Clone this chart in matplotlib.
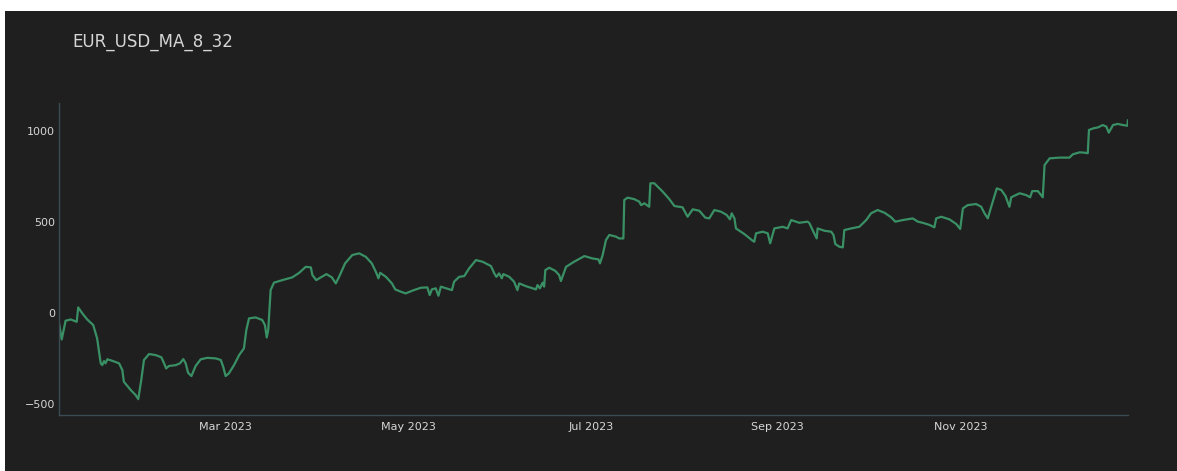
import matplotlib
matplotlib.use("Agg")
import matplotlib.pyplot as plt
import matplotlib.dates as mdates
from matplotlib.patches import Rectangle
import pandas as pd

# days since 2023-01-01 and strategy value
day_offsets = [
    3.7, 4.6, 5.9, 7.6, 9.6, 10.1, 11.4, 13.1, 15.1, 16.4, 17.6, 18.1, 18.7, 19.2,
    19.8, 21.4, 23.7, 24.8, 25.3, 27.6, 29.2, 30.1, 31.1, 32.0, 33.7, 35.9, 37.8,
    38.7, 39.4, 40.3, 42.6, 44.0, 45.1, 45.9, 46.7, 47.8, 49.2, 50.9, 53.1, 55.9,
    57.6, 58.4, 59.2, 60.3, 62.0, 63.7, 65.3, 66.1, 67.0, 69.2, 71.4, 72.3, 72.9,
    73.4, 74.2, 75.3, 78.1, 81.4, 83.7, 85.9, 87.6, 88.1, 89.4, 90.9, 92.8, 94.6,
    95.9, 97.0, 99.0, 101.4, 103.7, 105.9, 107.9, 109.4, 110.1, 110.7, 112.6,
    114.6, 115.7, 117.6, 119.2, 121.4, 124.2, 126.4, 127.2, 127.9, 129.2, 130.1,
    130.9, 132.6, 134.6, 135.3, 137.0, 138.7, 140.3, 142.6, 144.8, 147.6, 148.7,
    149.4, 150.3, 151.2, 151.7, 153.7, 155.3, 156.4, 157.0, 159.2, 162.6, 163.1,
    163.9, 164.8, 165.3, 165.7, 167.0, 169.0, 170.3, 170.9, 172.6, 175.3, 178.7,
    181.4, 183.4, 183.9, 184.8, 185.9, 187.0, 189.2, 190.3, 191.7, 192.0, 193.1,
    195.3, 197.0, 197.6, 198.7, 200.3, 200.7, 202.0, 204.8, 207.0, 208.7, 211.4,
    213.1, 214.8, 217.0, 219.0, 220.3, 222.0, 224.2, 226.1, 227.2, 227.8, 228.7,
    229.2, 232.0, 234.8, 235.3, 235.9, 238.1, 239.8, 240.6, 242.0, 244.8, 246.4,
    247.6, 250.3, 253.1, 253.7, 255.0, 256.1, 256.4, 258.7, 260.9, 261.7, 262.3,
    263.7, 264.8, 265.3, 267.6, 270.3, 272.6, 274.2, 276.4, 278.7, 280.9, 282.3,
    284.8, 288.1, 289.8, 291.4, 293.7, 295.3, 295.9, 297.6, 300.3, 302.6, 303.9,
    304.8, 306.4, 309.2, 310.9, 312.0, 313.1, 313.9, 316.1, 317.6, 319.0, 320.3,
    320.9, 323.7, 325.9, 327.2, 327.9, 329.8, 331.4, 332.0, 333.7, 337.0, 340.3,
    341.4, 343.7, 345.3, 346.4, 346.8, 348.3, 349.8, 351.4, 352.6, 353.4, 354.8,
    356.4, 358.1, 359.6, 359.8,
]
values = [
    -55, -145, -42, -35, -48, 31, 0, -35, -66, -139, -276, -286, -264, -276,
    -254, -262, -276, -313, -377, -423, -450, -473, -368, -258, -225, -231, -243,
    -276, -304, -291, -286, -276, -253, -276, -328, -346, -291, -254, -246, -249,
    -258, -295, -346, -331, -286, -231, -194, -93, -29, -24, -38, -66, -134,
    -93, 126, 167, 181, 196, 221, 254, 251, 209, 181, 196, 214, 196,
    163, 199, 273, 319, 328, 309, 273, 221, 191, 221, 199,
    163, 130, 117, 108, 123, 139, 141, 99, 130, 136, 95,
    145, 136, 126, 172, 199, 203, 245, 291, 282, 258, 218,
    199, 218, 191, 214, 199, 172, 126, 163, 148, 130, 154,
    136, 167, 145, 236, 249, 232, 209, 176, 254, 282, 313,
    300, 295, 273, 319, 401, 429, 420, 410, 410, 621, 634,
    626, 612, 593, 603, 584, 713, 713, 667, 626, 588, 581,
    529, 570, 562, 524, 520, 566, 557, 539, 515, 548, 520,
    465, 434, 397, 392, 438, 447, 438, 383, 465, 474, 465,
    511, 496, 502, 493, 447, 410, 465, 452, 447, 429, 379,
    364, 361, 456, 465, 474, 511, 548, 566, 551, 526, 502,
    511, 520, 502, 496, 484, 471, 520, 529, 515, 489, 462,
    575, 593, 599, 584, 548, 520, 566, 685, 676, 643, 584,
    636, 658, 648, 636, 670, 670, 636, 813, 850, 854, 854,
    872, 883, 881, 878, 1006, 1015, 1020, 1033, 1024, 991, 1033,
    1039, 1033, 1029, 1060,
]
title = "EUR_USD_MA_8_32"
y_ticks = [-500, 0, 500, 1000]

dates = pd.Timestamp("2023-01-01") + pd.to_timedelta(day_offsets, unit="D")

bg = "#1f1f1f"
text_col = "#d6d6d6"
spine_col = "#3a4b54"

fig = plt.figure(figsize=(11.77, 4.71), dpi=100, facecolor="white")
# dark panel (reference has a thin white strip at top and left)
fig.patches.append(Rectangle((5 / 1177, 0), 1 - 5 / 1177, 1 - 11 / 471,
                             transform=fig.transFigure, facecolor=bg,
                             edgecolor="none", zorder=-10))

ax = fig.add_axes([59 / 1177, 1 - 415 / 471, (1128 - 59) / 1177, (415 - 103) / 471])
ax.set_zorder(5)
ax.set_facecolor(bg)
ax.plot(dates, values, color="#3a9065", linewidth=1.6,
        solid_joinstyle="round", solid_capstyle="round")

ax.set_xlim(dates.min(), dates.max())
ax.set_ylim(-560, 1154)
ax.set_yticks(y_ticks)
ax.xaxis.set_major_locator(mdates.MonthLocator(bymonth=[3, 5, 7, 9, 11]))
ax.xaxis.set_major_formatter(mdates.DateFormatter("%b %Y"))

for side in ["top", "right"]:
    ax.spines[side].set_visible(False)
for side in ["left", "bottom"]:
    ax.spines[side].set_color(spine_col)
    ax.spines[side].set_linewidth(1)
ax.tick_params(axis="both", length=0, colors=text_col, labelsize=8)
ax.tick_params(axis="y", pad=3)
ax.tick_params(axis="x", pad=5)

fig.text(72 / 1177, 1 - 42 / 471, title, color=text_col, fontsize=12,
         ha="left", va="center", zorder=10)

fig.savefig("out.png", dpi=100, facecolor=fig.get_facecolor())
